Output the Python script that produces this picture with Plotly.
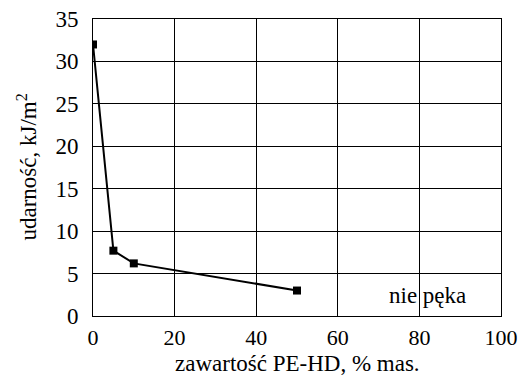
import plotly.graph_objects as go

x_vals = [0, 5, 10, 50]
y_vals = [32, 7.7, 6.2, 3.0]
x_ticks = [0, 20, 40, 60, 80, 100]
y_ticks = [0, 5, 10, 15, 20, 25, 30, 35]
note_text = "nie pęka"
note_pos = (82, 2.4)
x_title = "zawartość PE-HD, % mas."
y_title = "udarność, kJ/m<sup>2</sup>"

font = "Liberation Serif, serif"

fig = go.Figure()
fig.add_trace(go.Scatter(
    x=x_vals, y=y_vals, mode="lines+markers",
    line=dict(color="black", width=2),
    marker=dict(symbol="square", size=8, color="black"),
    showlegend=False,
))
fig.add_annotation(x=note_pos[0], y=note_pos[1], text=note_text, showarrow=False,
                   font=dict(family=font, size=23, color="black"))
fig.add_annotation(xref="paper", yref="paper", x=0.5, y=0, xanchor="center", yanchor="bottom",
                   yshift=-62, text=x_title, showarrow=False,
                   font=dict(family=font, size=23, color="black"))
fig.add_annotation(xref="paper", yref="paper", x=0, y=0.5, xanchor="center", yanchor="middle",
                   xshift=-66, textangle=-90, text=y_title, showarrow=False,
                   font=dict(family=font, size=23, color="black"))

fig.update_xaxes(range=[0, 100], tickvals=x_ticks,
                 showgrid=True, gridcolor="black", gridwidth=1,
                 showline=True, linecolor="black", linewidth=1, mirror=True,
                 ticks="", zeroline=False, ticklabelstandoff=2, automargin=False,
                 tickfont=dict(family=font, size=22, color="black"))
fig.update_yaxes(range=[0, 35], tickvals=y_ticks,
                 showgrid=True, gridcolor="black", gridwidth=1,
                 showline=True, linecolor="black", linewidth=1, mirror=True,
                 ticks="", zeroline=False, ticklabelstandoff=9, automargin=False,
                 tickfont=dict(family=font, size=23, color="black"))
fig.update_layout(
    width=523, height=378,
    font=dict(family=font, size=20, color="black"),
    margin=dict(l=93, r=22, t=19, b=62),
    plot_bgcolor="white", paper_bgcolor="white",
)
fig.write_html("out.html")
